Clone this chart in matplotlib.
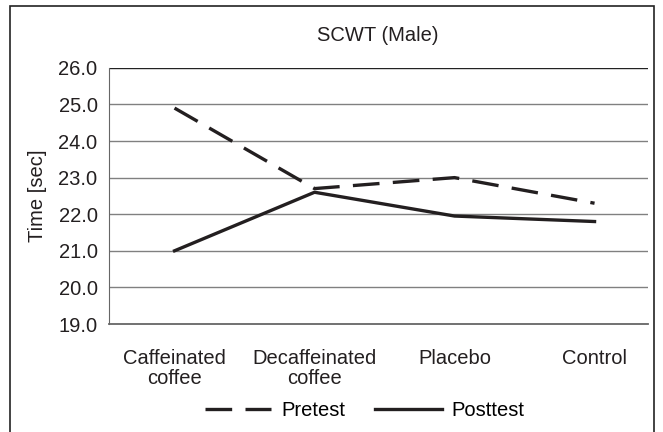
import matplotlib.pyplot as plt
from matplotlib.patches import Rectangle

categories = ['Caffeinated\ncoffee', 'Decaffeinated\ncoffee', 'Placebo', 'Control']
pretest = [24.9, 22.7, 23.0, 22.3]
posttest = [21.0, 22.6, 21.95, 21.8]
yticks = [19.0, 20.0, 21.0, 22.0, 23.0, 24.0, 25.0, 26.0]

plt.rcParams['font.family'] = ['Liberation Sans', 'DejaVu Sans']

fig = plt.figure(figsize=(6.63, 4.32), dpi=100)
# outer frame, bottom edge is cut off in the original
fig.patches.append(Rectangle((0.015, -0.02), 0.972, 1.006, transform=fig.transFigure,
                             fill=False, edgecolor='#222222', linewidth=1.2))
ax = fig.add_axes([0.164, 0.25, 0.813, 0.593])

xs = range(len(categories))
ax.plot(xs, pretest, color='#231f20', linewidth=2.4, dashes=(8, 4), label='Pretest')
ax.plot(xs, posttest, color='#231f20', linewidth=2.4, label='Posttest')

ax.set_xlim(-0.47, 3.38)
ax.set_ylim(19, 26)
ax.set_yticks(yticks)
ax.set_yticklabels([f'{v:.1f}' for v in yticks], fontsize=14.5, color='#231f20')
ax.set_xticks(list(xs))
ax.set_xticklabels(categories, fontsize=14.5, color='#231f20', linespacing=1.1)
ax.tick_params(length=0)
ax.tick_params(axis='y', pad=8)
ax.tick_params(axis='x', pad=18)
for v in yticks[1:]:
    ax.axhline(v, color='#808080' if v < 26 else '#222222', linewidth=1.0, zorder=0)
for s in ['top', 'right']:
    ax.spines[s].set_visible(False)
ax.spines['left'].set_color('#666666')
ax.spines['bottom'].set_color('#666666')
ax.spines['bottom'].set_linewidth(1.3)
ax.set_ylabel('Time [sec]', fontsize=14.5, color='#231f20', labelpad=8)
ax.set_title('SCWT (Male)', fontsize=14.5, color='#231f20', pad=19)

fig.legend(loc='lower center', bbox_to_anchor=(0.55, -0.015), ncol=2, frameon=False,
           fontsize=14.5, handlelength=3.3, columnspacing=1.5, handletextpad=0.5)

fig.savefig('out.png', dpi=100)
